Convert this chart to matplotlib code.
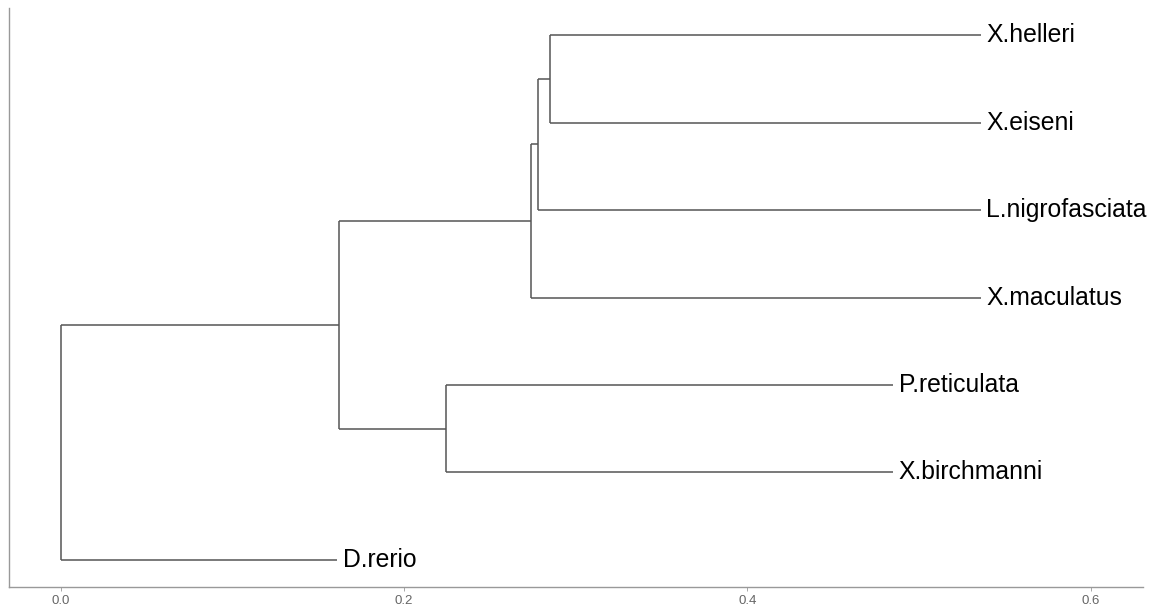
import matplotlib
matplotlib.use("Agg")
import matplotlib.pyplot as plt

# Tree topology: each node with its parent and its distance from the root
node_names = ["root", "n1", "n2", "n3", "n4", "n5",
              "X.helleri", "X.eiseni", "L.nigrofasciata", "X.maculatus",
              "P.reticulata", "X.birchmanni", "D.rerio"]
node_parent = [None, "root", "n1", "n1", "n3", "n4",
               "n5", "n5", "n4", "n3",
               "n2", "n2", "root"]
node_depth = [0.0, 0.162, 0.2245, 0.274, 0.278, 0.285,
              0.536, 0.536, 0.536, 0.536,
              0.485, 0.485, 0.161]

# Tips listed from top to bottom
tip_order = ["X.helleri", "X.eiseni", "L.nigrofasciata", "X.maculatus",
             "P.reticulata", "X.birchmanni", "D.rerio"]

x_ticks = [0.0, 0.2, 0.4, 0.6]
x_tick_labels = ["0.0", "0.2", "0.4", "0.6"]

parent = dict(zip(node_names, node_parent))
depth = dict(zip(node_names, node_depth))
children = {n: [c for c in node_names if parent[c] == n] for n in node_names}

ypos = {}
for i, name in enumerate(tip_order):
    ypos[name] = len(tip_order) - i


def layout(n):
    if n in ypos:
        return ypos[n]
    ys = [layout(c) for c in children[n]]
    ypos[n] = sum(ys) / len(ys)
    return ypos[n]


layout("root")

fig = plt.figure(figsize=(11.54, 6.08), dpi=100)
ax = fig.add_axes([0.0078, 0.0345, 0.9827, 0.9523])

line_kw = dict(color="#555555", lw=1.1, solid_capstyle="butt")
for n in node_names:
    p = parent[n]
    if p is not None:
        ax.plot([depth[p], depth[n]], [ypos[n], ypos[n]], **line_kw)
    if children[n]:
        cy = [ypos[c] for c in children[n]]
        ax.plot([depth[n], depth[n]], [min(cy), max(cy)], **line_kw)

for name in tip_order:
    ax.annotate(name, (depth[name], ypos[name]), xytext=(4, 0),
                textcoords="offset points", va="center", ha="left",
                fontsize=17.8, family=["Liberation Sans", "DejaVu Sans"],
                color="black")

ax.set_xlim(-0.0301, 0.6305)
ax.set_ylim(0.69, 7.31)
ax.set_xticks(x_ticks)
ax.set_xticklabels(x_tick_labels, family=["Liberation Sans", "DejaVu Sans"])
ax.set_yticks([])
ax.tick_params(axis="x", colors="#666666", labelsize=9.5, length=3,
               width=0.6, pad=3)
ax.tick_params(axis="x", color="#999999")
for side in ["top", "right"]:
    ax.spines[side].set_visible(False)
for side in ["left", "bottom"]:
    ax.spines[side].set_color("#999999")
    ax.spines[side].set_linewidth(1.0)

fig.savefig("out.png", dpi=100, facecolor="white")
